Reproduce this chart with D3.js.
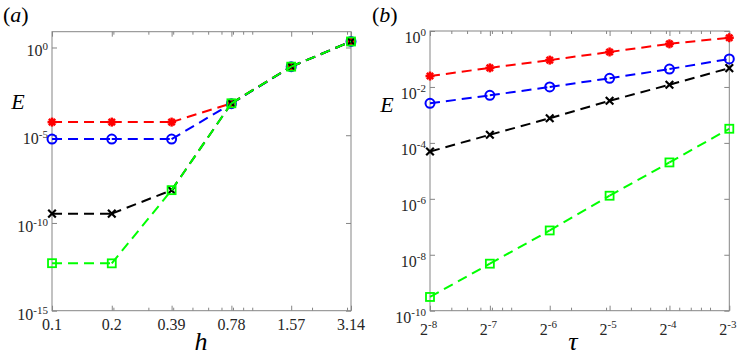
<!DOCTYPE html>
<meta charset="utf-8">
<style>
body { margin: 0; background: #fff; }
</style>
<body>
<svg width="741" height="355"></svg>
<script src="https://d3js.org/d3.v7.min.js"></script>
<script>
// panel (a): error vs h
var hVals = [0.0982, 0.1963, 0.3927, 0.7854, 1.5708, 3.1416];
var hLabels = ["0.1", "0.2", "0.39", "0.78", "1.57", "3.14"];
var hMinor = [0.2, 0.3, 0.4, 0.5, 0.6, 0.7, 0.8, 0.9, 1, 2, 3];
var redA   = [5.6e-5, 5.6e-5, 5.6e-5, 6.6e-4, 0.081, 2.2];
var blueA  = [6.0e-6, 6.0e-6, 6.0e-6, 6.3e-4, 0.081, 2.2];
var blackA = [3.4e-10, 3.4e-10, 7.4e-9, 6.6e-4, 0.081, 2.2];
var greenA = [5.1e-13, 5.0e-13, 7.4e-9, 6.6e-4, 0.081, 2.2];
var yTicksA = [0, -5, -10, -15];

// panel (b): error vs tau
var tauExp = [-8, -7, -6, -5, -4, -3];
var tauMinor = [0.005, 0.006, 0.007, 0.008, 0.009, 0.01, 0.02, 0.03, 0.04, 0.05, 0.06, 0.07, 0.08, 0.09, 0.1];
var redB   = [0.0245, 0.048, 0.091, 0.178, 0.347, 0.575];
var blueB  = [0.0026, 0.0050, 0.0100, 0.0204, 0.0437, 0.100];
var blackB = [4.9e-5, 1.95e-4, 7.6e-4, 3.2e-3, 0.012, 0.047];
var greenB = [3.1e-10, 4.8e-9, 7.4e-8, 1.29e-6, 2.0e-5, 3.2e-4];
var yTicksB = [0, -2, -4, -6, -8, -10];

var svg = d3.select("svg");
var serif = "Liberation Serif";
var axisColor = "#858585";
var labelColor = "#262626";

function marker(g, kind, color, px, py) {
  if (kind == "star") {
    var r = 4.5;
    [[r, 0], [0, r], [r * 0.7, r * 0.7], [r * 0.7, -r * 0.7]].forEach(function(d) {
      g.append("line").attr("x1", px - d[0]).attr("y1", py - d[1])
        .attr("x2", px + d[0]).attr("y2", py + d[1])
        .attr("stroke", color).attr("stroke-width", 2.5);
    });
  } else if (kind == "circle") {
    g.append("circle").attr("cx", px).attr("cy", py).attr("r", 4.5)
      .attr("fill", "none").attr("stroke", color).attr("stroke-width", 2);
  } else if (kind == "x") {
    var s = 3.8;
    g.append("path")
      .attr("d", "M" + (px - s) + "," + (py - s) + "L" + (px + s) + "," + (py + s) +
                 "M" + (px - s) + "," + (py + s) + "L" + (px + s) + "," + (py - s))
      .attr("stroke", color).attr("stroke-width", 2.2);
  } else {
    g.append("rect").attr("x", px - 4).attr("y", py - 4).attr("width", 8).attr("height", 8)
      .attr("fill", "none").attr("stroke", color).attr("stroke-width", 1.8);
  }
}

// dash pattern restarts at every vertex, one path per segment
function drawSeries(g, x, y, xs, ys, color, kind) {
  var line = d3.line().x(function(d) { return x(d[0]); }).y(function(d) { return y(d[1]); });
  for (var i = 0; i < ys.length - 1; i++) {
    g.append("path").datum([[xs[i], ys[i]], [xs[i + 1], ys[i + 1]]])
      .attr("d", line)
      .attr("fill", "none")
      .attr("stroke", color)
      .attr("stroke-width", 2)
      .attr("stroke-dasharray", "10,6");
  }
  ys.forEach(function(d, i) { marker(g, kind, color, x(xs[i]), y(d)); });
}

function box(g, x, y, majorX, minorX, majorY) {
  var x0 = x.range()[0], x1 = x.range()[1], y0 = y.range()[0], y1 = y.range()[1];
  g.append("g").attr("transform", "translate(0," + y0 + ")")
    .call(d3.axisBottom(x).tickValues(minorX).tickSize(-3).tickFormat(""));
  g.append("g").attr("transform", "translate(0," + y1 + ")")
    .call(d3.axisTop(x).tickValues(minorX).tickSize(-3).tickFormat(""));
  g.append("g").attr("transform", "translate(0," + y0 + ")")
    .call(d3.axisBottom(x).tickValues(majorX).tickSize(-5).tickFormat(""));
  g.append("g").attr("transform", "translate(0," + y1 + ")")
    .call(d3.axisTop(x).tickValues(majorX).tickSize(-5).tickFormat(""));
  g.append("g").attr("transform", "translate(" + x0 + ",0)")
    .call(d3.axisLeft(y).tickValues(majorY).tickSize(-5).tickFormat(""));
  g.append("g").attr("transform", "translate(" + x1 + ",0)")
    .call(d3.axisRight(y).tickValues(majorY).tickSize(-5).tickFormat(""));
  g.selectAll(".domain, .tick line").attr("stroke", axisColor);
  g.selectAll(".domain").attr("d", null);
  g.append("rect").attr("x", x0).attr("y", y1).attr("width", x1 - x0).attr("height", y0 - y1)
    .attr("fill", "none").attr("stroke", axisColor).attr("stroke-width", 1);
}

function powLabel(g, base, exp, px, py, anchor, supDy) {
  var t = g.append("text").attr("x", px).attr("y", py).attr("font-family", serif)
    .attr("text-anchor", anchor).attr("fill", labelColor).style("font-size", "16px");
  t.append("tspan").text(base);
  t.append("tspan").attr("dy", supDy).style("font-size", "11px").text(exp);
}

function panelTag(px, letter) {
  var t = svg.append("text").attr("x", px).attr("y", 22).attr("font-family", serif)
    .style("font-size", "22px");
  t.append("tspan").text("(");
  t.append("tspan").style("font-style", "italic").text(letter);
  t.append("tspan").text(")");
}

function italicLabel(txt, px, py, size) {
  svg.append("text").attr("x", px).attr("y", py).attr("font-family", serif)
    .attr("text-anchor", "middle")
    .style("font-size", size + "px").style("font-style", "italic").text(txt);
}

// ---------- panel (a)
var xA = d3.scaleLog().domain([Math.PI / 32, Math.PI]).range([52, 351]);
var yA = d3.scaleLog().domain([1e-15, Math.pow(10, 0.9)]).range([310.7, 31.7]);
var gA = svg.append("g");
box(gA, xA, yA, hVals, hMinor, yTicksA.map(function(e) { return Math.pow(10, e); }));

drawSeries(gA, xA, yA, hVals, redA, "#ff0000", "star");
drawSeries(gA, xA, yA, hVals, blueA, "#0000ff", "circle");
drawSeries(gA, xA, yA, hVals, blackA, "#000000", "x");
drawSeries(gA, xA, yA, hVals, greenA, "#00ff00", "square");

hVals.forEach(function(h, i) {
  gA.append("text").attr("x", xA(h)).attr("y", 330).attr("font-family", serif)
    .attr("text-anchor", "middle").attr("fill", labelColor).style("font-size", "16px")
    .text(hLabels[i]);
});
yTicksA.forEach(function(e) {
  powLabel(gA, "10", e, 48, yA(Math.pow(10, e)) + 9, "end", -6);
});

panelTag(3, "a");
italicLabel("E", 18, 109, 22);
italicLabel("h", 201, 350, 26);

// ---------- panel (b)
var tauVals = tauExp.map(function(e) { return Math.pow(2, e); });
var xB = d3.scaleLog().base(2).domain([Math.pow(2, -8), Math.pow(2, -3)]).range([430, 729.3]);
var yB = d3.scaleLog().domain([1e-10, 1]).range([310.7, 31]);
var gB = svg.append("g");
box(gB, xB, yB, tauVals, tauMinor, yTicksB.map(function(e) { return Math.pow(10, e); }));

drawSeries(gB, xB, yB, tauVals, redB, "#ff0000", "star");
drawSeries(gB, xB, yB, tauVals, blueB, "#0000ff", "circle");
drawSeries(gB, xB, yB, tauVals, blackB, "#000000", "x");
drawSeries(gB, xB, yB, tauVals, greenB, "#00ff00", "square");

tauExp.forEach(function(e, i) {
  powLabel(gB, "2", e, xB(tauVals[i]) - 10, 335, "start", -7);
});
yTicksB.forEach(function(e) {
  powLabel(gB, "10", e, 426, yB(Math.pow(10, e)) + 12, "end", -7);
});

panelTag(372, "b");
italicLabel("E", 387, 112, 22);
italicLabel("τ", 573, 350, 26);
</script>
</body>
